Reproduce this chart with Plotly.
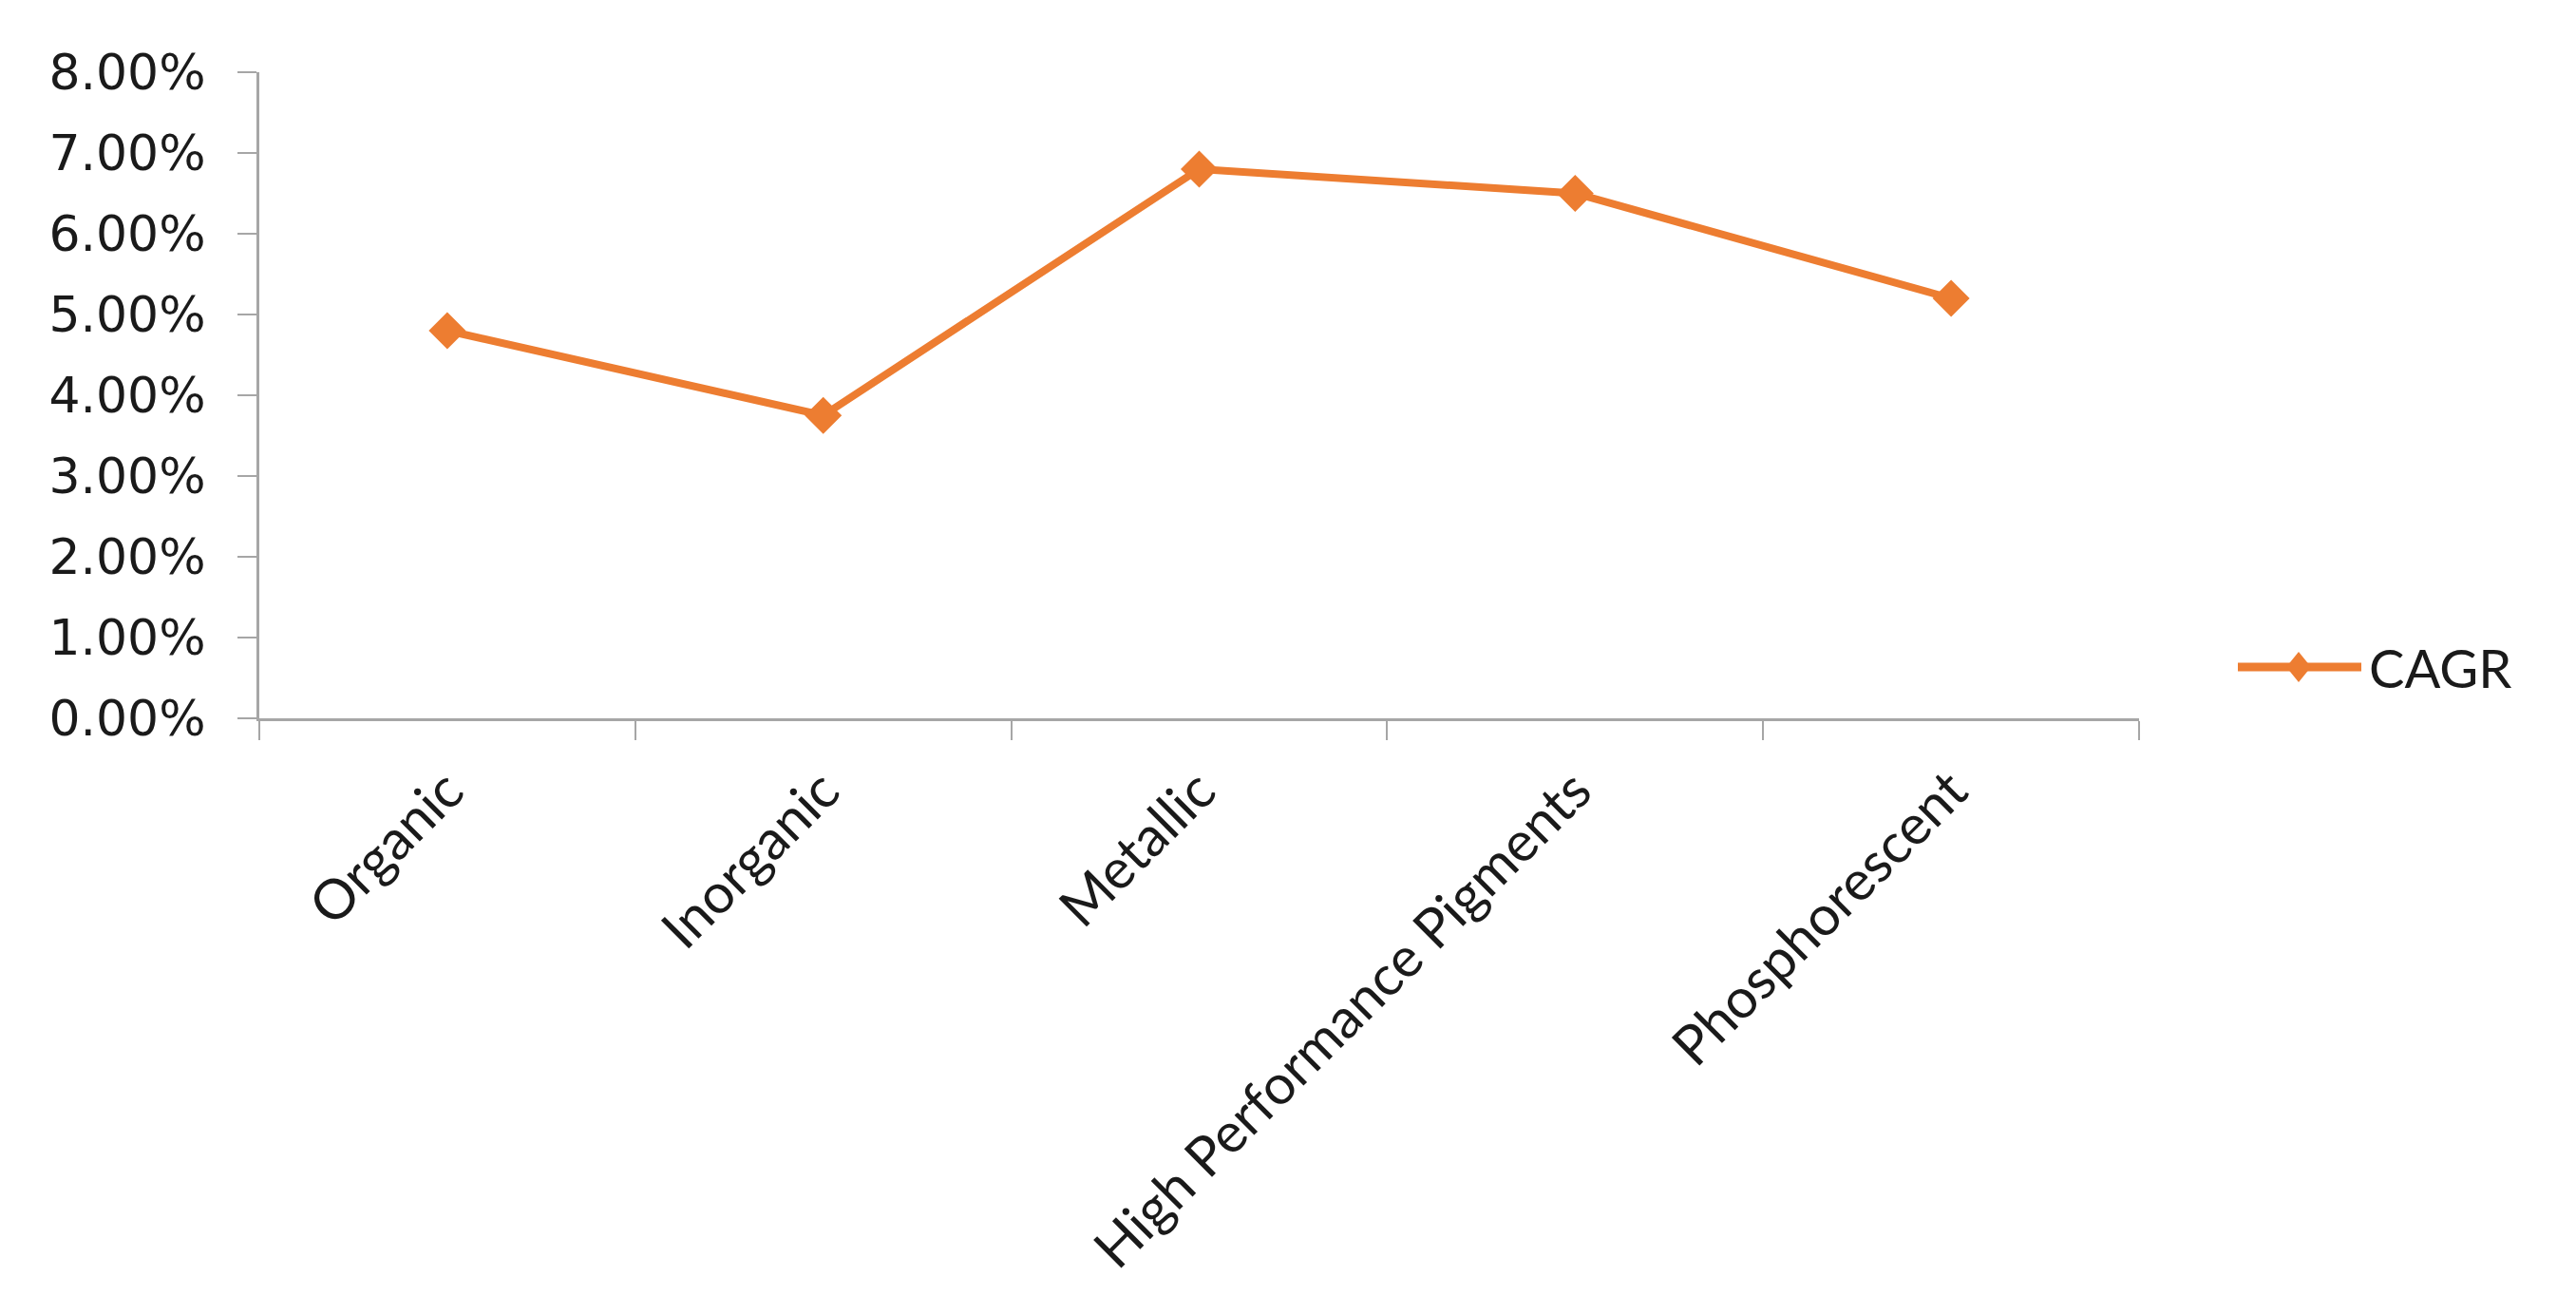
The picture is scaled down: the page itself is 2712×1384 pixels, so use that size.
import plotly.graph_objects as go

categories = ["Organic", "Inorganic", "Metallic", "High Performance Pigments", "Phosphorescent"]
cagr = [0.048, 0.0375, 0.068, 0.065, 0.052]
series_name = "CAGR"

ORANGE = "#ED7D31"
AXIS = "#A6A6A6"

OFF = 8  # default page body margin
W, H = 2712 - 2 * OFF, 1384 - 2 * OFF
# plot area in page pixels: x 273..2252, y 76..756
L = 273 - OFF
T = 76 - OFF
R = W - (2252 - OFF)
B = H - (756 - OFF)

fig = go.Figure()
fig.add_trace(go.Scatter(
    x=categories, y=cagr, mode="lines+markers", name=series_name,
    line=dict(color=ORANGE, width=8),
    marker=dict(symbol="diamond", size=30, color=ORANGE),
    showlegend=False,
))

# manual legend (long line sample like the original)
pw = W - L - R
ph = H - T - B
def px_x(p):
    return (p - OFF - L) / pw
def px_y(p):
    return (H - B - (p - OFF)) / ph

ly = px_y(702)
fig.add_shape(type="line", xref="paper", yref="paper",
              x0=px_x(2356), x1=px_x(2486), y0=ly, y1=ly,
              line=dict(color=ORANGE, width=9))
cx = px_x(2420)
dx = 13 / pw
dy = 16 / ph
fig.add_shape(type="path", xref="paper", yref="paper",
              path=f"M {cx-dx} {ly} L {cx} {ly+dy} L {cx+dx} {ly} L {cx} {ly-dy} Z",
              fillcolor=ORANGE, line=dict(color=ORANGE, width=0))
fig.add_annotation(xref="paper", yref="paper", x=px_x(2492), y=ly,
                   text=series_name, showarrow=False, xanchor="left", yanchor="middle",
                   font=dict(family="Lato, Open Sans, sans-serif", size=56, color="#1a1a1a"))

fig.update_layout(
    width=W, height=H,
    margin=dict(l=L, r=R, t=T, b=B, autoexpand=False),
    paper_bgcolor="white", plot_bgcolor="white",
    showlegend=False,
)
fig.update_xaxes(
    type="category", showgrid=False, showline=True, linecolor=AXIS, linewidth=3,
    ticks="outside", ticklen=20, tickcolor=AXIS, tickwidth=2,
    tickson="boundaries", tickangle=-45,
    ticklabelstandoff=16,
    tickfont=dict(family="Lato, Open Sans, sans-serif", size=58, color="#1a1a1a"),
    range=[-0.5, 4.5],
)
fig.update_yaxes(
    range=[0, 0.08], dtick=0.01, tickformat=".2%",
    showgrid=False, zeroline=False, showline=True, linecolor=AXIS, linewidth=3,
    ticks="outside", ticklen=20, tickcolor=AXIS, tickwidth=2,
    ticklabelstandoff=23,
    tickfont=dict(family="DejaVu Sans, Verdana, sans-serif", size=52, color="#1a1a1a"),
)

fig.write_html("out.html")
